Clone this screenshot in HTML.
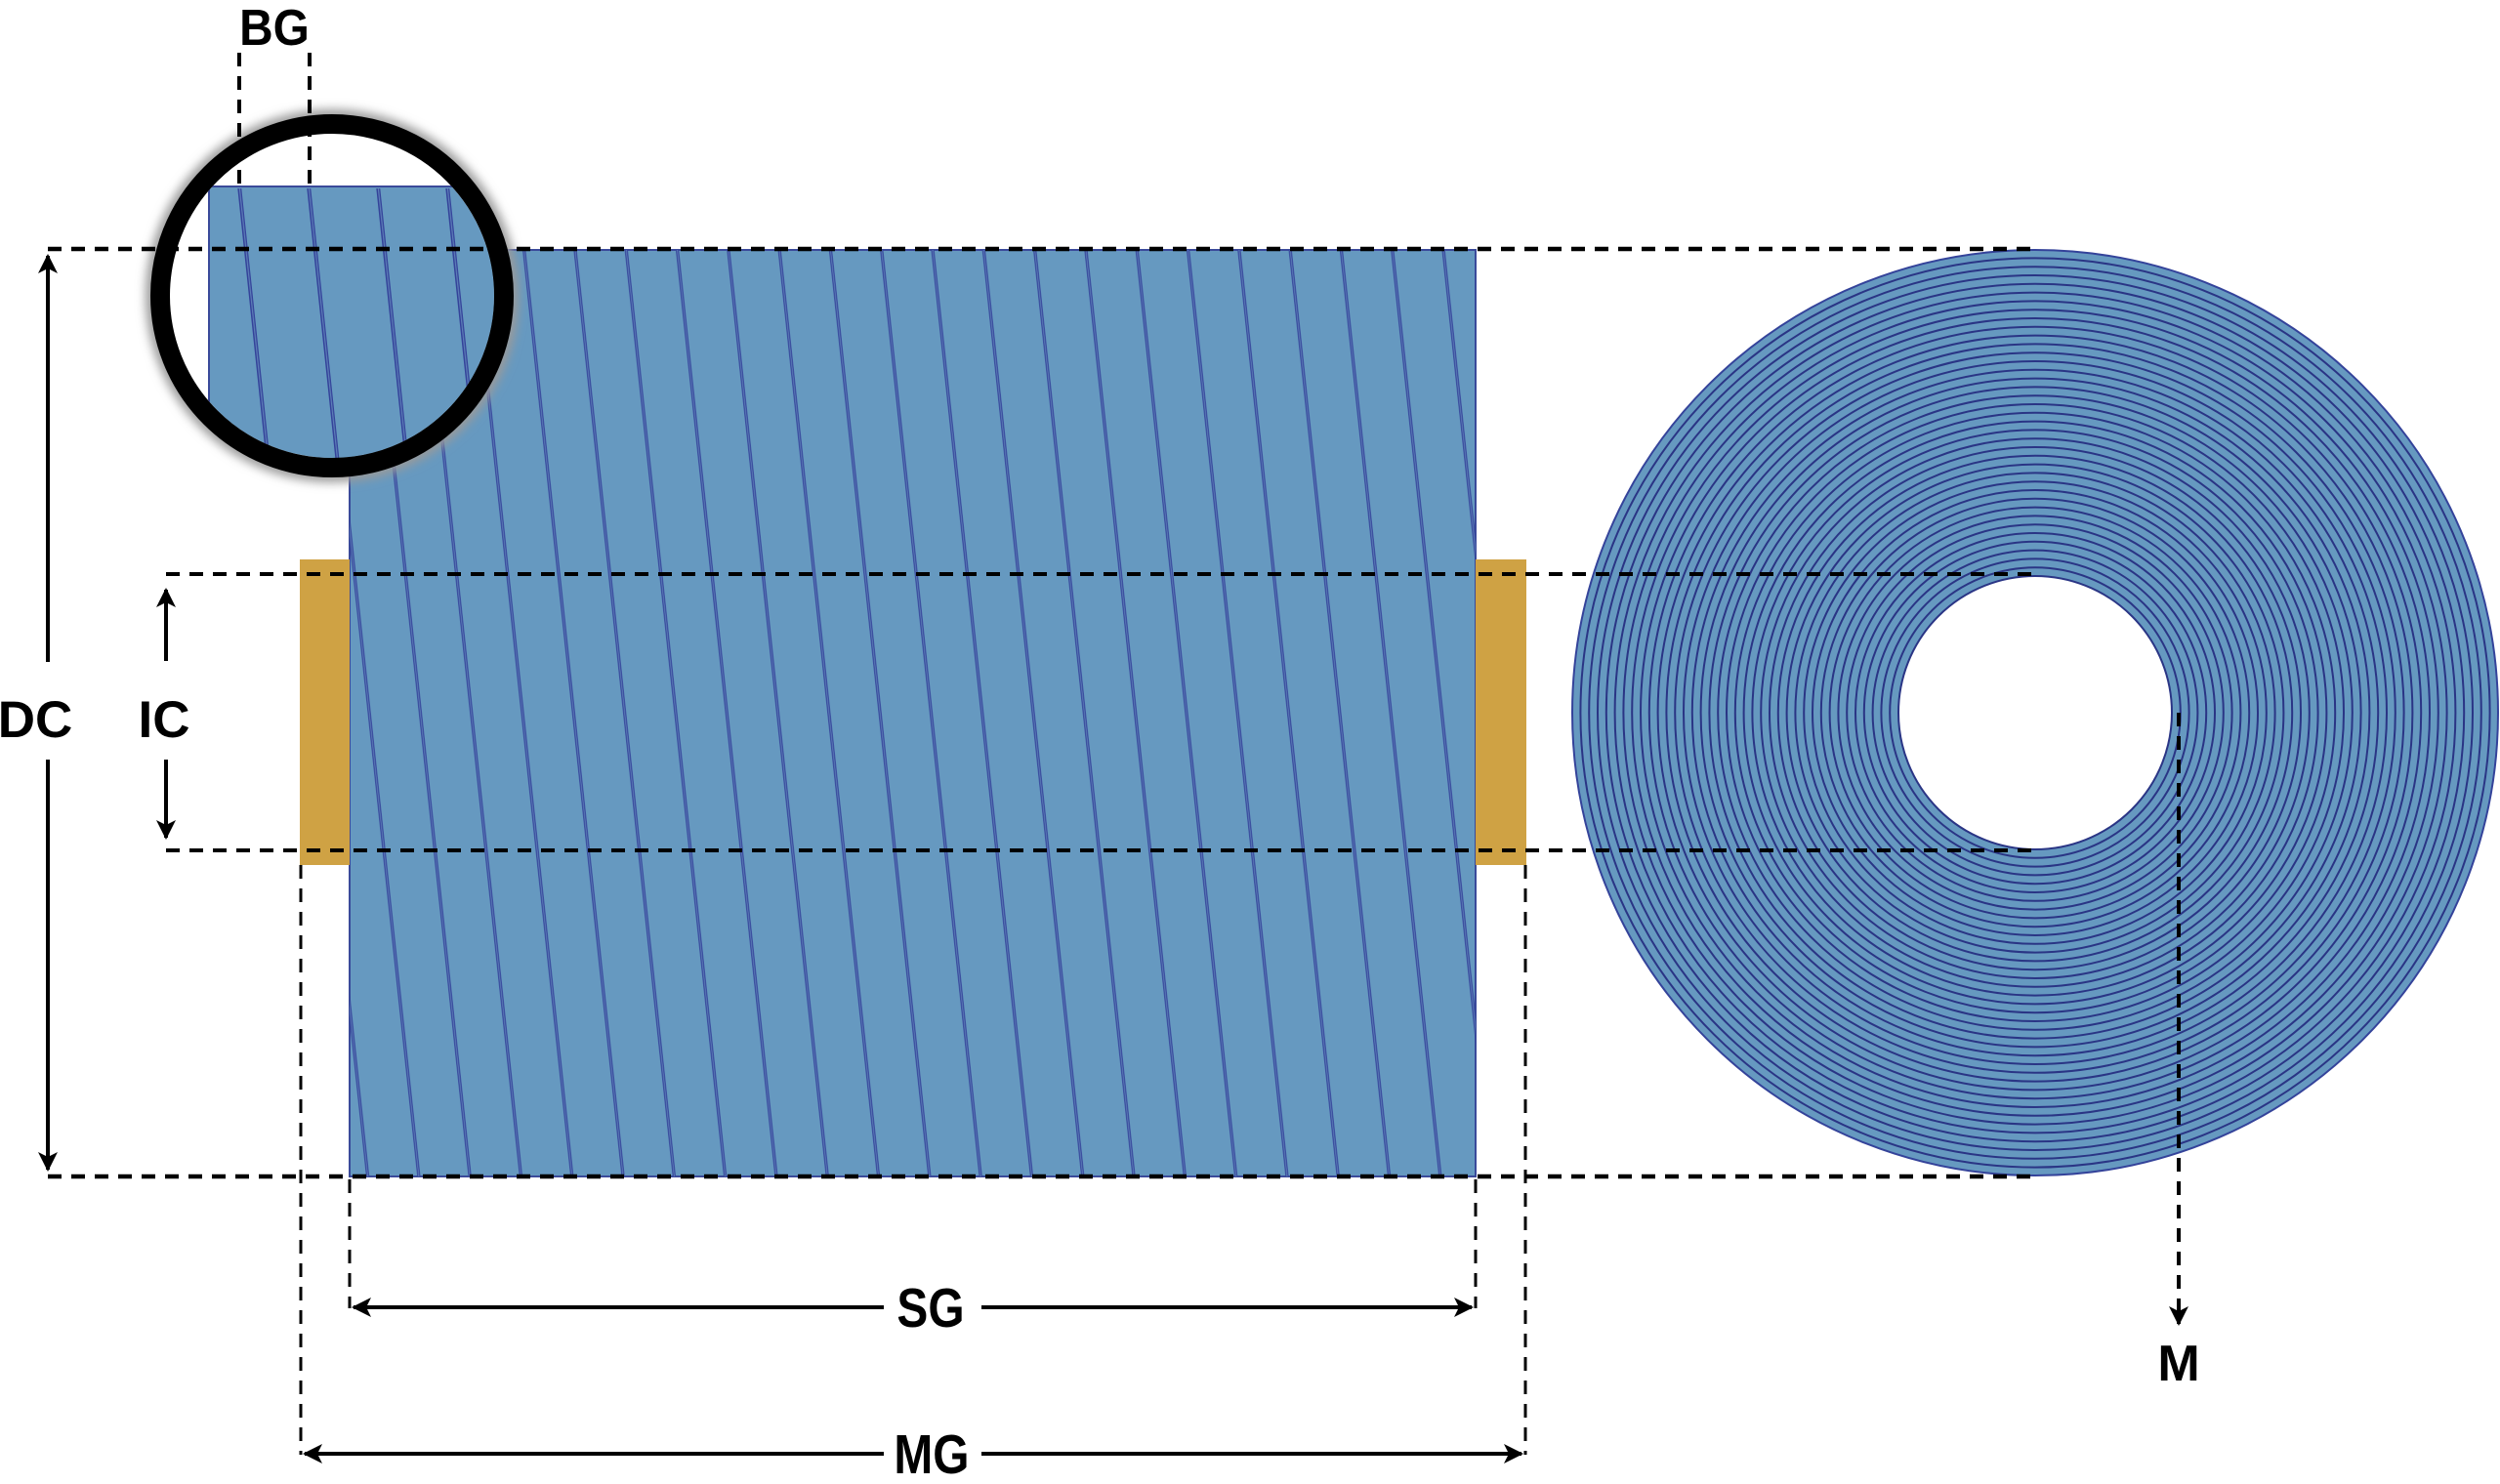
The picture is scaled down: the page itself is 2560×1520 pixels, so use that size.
<!DOCTYPE html>
<html><head><meta charset="utf-8"><style>
html,body{margin:0;padding:0;background:#fff;}
svg{display:block}
text{font-family:"Liberation Sans",sans-serif;font-weight:bold;fill:#000;}
</style></head><body>
<svg width="2560" height="1520" viewBox="0 0 2560 1520" xmlns="http://www.w3.org/2000/svg">
<defs>
<pattern id="pm" patternUnits="userSpaceOnUse" width="52.3" height="20" patternTransform="skewX(6.1)">
<rect x="37" y="-1" width="3.2" height="22" fill="#34439a"/>
<rect x="38.1" y="-1" width="1" height="22" fill="#5d7fb8"/>
</pattern>
<pattern id="pz" patternUnits="userSpaceOnUse" width="71" height="20" patternTransform="skewX(6.0)">
<rect x="10" y="-1" width="4" height="22" fill="#34439a"/>
<rect x="11.5" y="-1" width="1.2" height="22" fill="#5d7fb8"/>
</pattern>
<clipPath id="cin"><circle cx="340" cy="303" r="166"/></clipPath>
<filter id="bl" x="-20%" y="-20%" width="140%" height="140%"><feGaussianBlur stdDeviation="5"/></filter>
<marker id="ah" viewBox="0 0 20 20" refX="18" refY="10" markerWidth="20" markerHeight="20" markerUnits="userSpaceOnUse" orient="auto-start-reverse">
<path d="M0,0 L20,10 L0,20 L5,10 Z" fill="#000"/>
</marker>
</defs>

<rect x="358" y="256" width="1153" height="949" fill="#6699c0" stroke="#3a4a9a" stroke-width="2"/>
<rect x="358" y="256" width="1153" height="949" fill="url(#pm)"/>
<rect x="307" y="573" width="51" height="313" fill="#cfa244"/>
<rect x="1511" y="573" width="52" height="313" fill="#cfa244"/>

<circle cx="2084" cy="730" r="474" fill="#6699c0" stroke="#34439a" stroke-width="2"/>
<g fill="none" stroke="#2a3585" stroke-width="2">
<circle cx="2084" cy="730" r="148.8"/><circle cx="2084" cy="730" r="157.6"/><circle cx="2084" cy="730" r="166.4"/><circle cx="2084" cy="730" r="175.2"/><circle cx="2084" cy="730" r="184"/><circle cx="2084" cy="730" r="192.8"/><circle cx="2084" cy="730" r="201.6"/><circle cx="2084" cy="730" r="210.4"/><circle cx="2084" cy="730" r="219.2"/><circle cx="2084" cy="730" r="228"/><circle cx="2084" cy="730" r="236.8"/><circle cx="2084" cy="730" r="245.6"/><circle cx="2084" cy="730" r="254.4"/><circle cx="2084" cy="730" r="263.2"/><circle cx="2084" cy="730" r="272"/><circle cx="2084" cy="730" r="280.8"/><circle cx="2084" cy="730" r="289.6"/><circle cx="2084" cy="730" r="298.4"/><circle cx="2084" cy="730" r="307.2"/><circle cx="2084" cy="730" r="316"/><circle cx="2084" cy="730" r="324.8"/><circle cx="2084" cy="730" r="333.6"/><circle cx="2084" cy="730" r="342.4"/><circle cx="2084" cy="730" r="351.2"/><circle cx="2084" cy="730" r="360"/><circle cx="2084" cy="730" r="368.8"/><circle cx="2084" cy="730" r="377.6"/><circle cx="2084" cy="730" r="386.4"/><circle cx="2084" cy="730" r="395.2"/><circle cx="2084" cy="730" r="404"/><circle cx="2084" cy="730" r="412.8"/><circle cx="2084" cy="730" r="421.6"/><circle cx="2084" cy="730" r="430.4"/><circle cx="2084" cy="730" r="439.2"/><circle cx="2084" cy="730" r="448"/><circle cx="2084" cy="730" r="456.8"/><circle cx="2084" cy="730" r="465.6"/>
</g>
<circle cx="2084" cy="730" r="140" fill="#fff" stroke="#2a3585" stroke-width="2"/>

<circle cx="340" cy="303" r="184" fill="none" stroke="#9a9a9a" stroke-width="14" filter="url(#bl)"/>
<circle cx="340" cy="303" r="166" fill="#fff"/>
<g clip-path="url(#cin)">
<rect x="214" y="191" width="400" height="400" fill="#6699c0" stroke="#3a4a9a" stroke-width="2"/>
<rect x="214" y="193" width="400" height="400" fill="url(#pz)"/>
</g>
<circle cx="340" cy="303" r="176" fill="none" stroke="#000" stroke-width="20"/>

<g stroke="#000" fill="none" stroke-dasharray="14 10">
<line x1="49" y1="255" x2="2087" y2="255" stroke-width="4.5"/>
<line x1="49" y1="1205" x2="2087" y2="1205" stroke-width="4.5"/>
<line x1="170" y1="588" x2="2087" y2="588" stroke-width="4"/>
<line x1="170" y1="871" x2="2087" y2="871" stroke-width="4"/>
<line x1="245" y1="54" x2="245" y2="192" stroke-width="4"/>
<line x1="317" y1="54" x2="317" y2="192" stroke-width="4"/>
<line x1="358" y1="1208" x2="358" y2="1340" stroke-width="3"/>
<line x1="1511" y1="1208" x2="1511" y2="1340" stroke-width="3"/>
<line x1="308" y1="886" x2="308" y2="1490" stroke-width="3"/>
<line x1="1562" y1="886" x2="1562" y2="1490" stroke-width="3"/>
<line x1="2231" y1="730" x2="2231" y2="1340" stroke-width="4"/>
</g>

<g stroke="#000" stroke-width="4" fill="none">
<line x1="49" y1="678" x2="49" y2="262" marker-end="url(#ah)"/>
<line x1="49" y1="778" x2="49" y2="1198" marker-end="url(#ah)"/>
<line x1="170" y1="677" x2="170" y2="604" marker-end="url(#ah)"/>
<line x1="170" y1="778" x2="170" y2="858" marker-end="url(#ah)"/>
<line x1="905" y1="1339" x2="362" y2="1339" marker-end="url(#ah)"/>
<line x1="1005" y1="1339" x2="1507" y2="1339" marker-end="url(#ah)"/>
<line x1="905" y1="1489" x2="312" y2="1489" marker-end="url(#ah)"/>
<line x1="1005" y1="1489" x2="1558" y2="1489" marker-end="url(#ah)"/>
<line x1="2231" y1="1330" x2="2231" y2="1356" marker-end="url(#ah)"/>
</g>

<text x="281" y="46" font-size="52" text-anchor="middle" transform="translate(281 0) scale(0.92 1) translate(-281 0)">BG</text>
<text x="36" y="755" font-size="53" text-anchor="middle">DC</text>
<text x="168" y="755" font-size="53" text-anchor="middle">IC</text>
<text x="953" y="1359" font-size="57" text-anchor="middle" transform="translate(953 0) scale(0.84 1) translate(-953 0)">SG</text>
<text x="954" y="1509" font-size="57" text-anchor="middle" transform="translate(954 0) scale(0.84 1) translate(-954 0)">MG</text>
<text x="2231" y="1414" font-size="52" text-anchor="middle">M</text>
</svg>
</body></html>
